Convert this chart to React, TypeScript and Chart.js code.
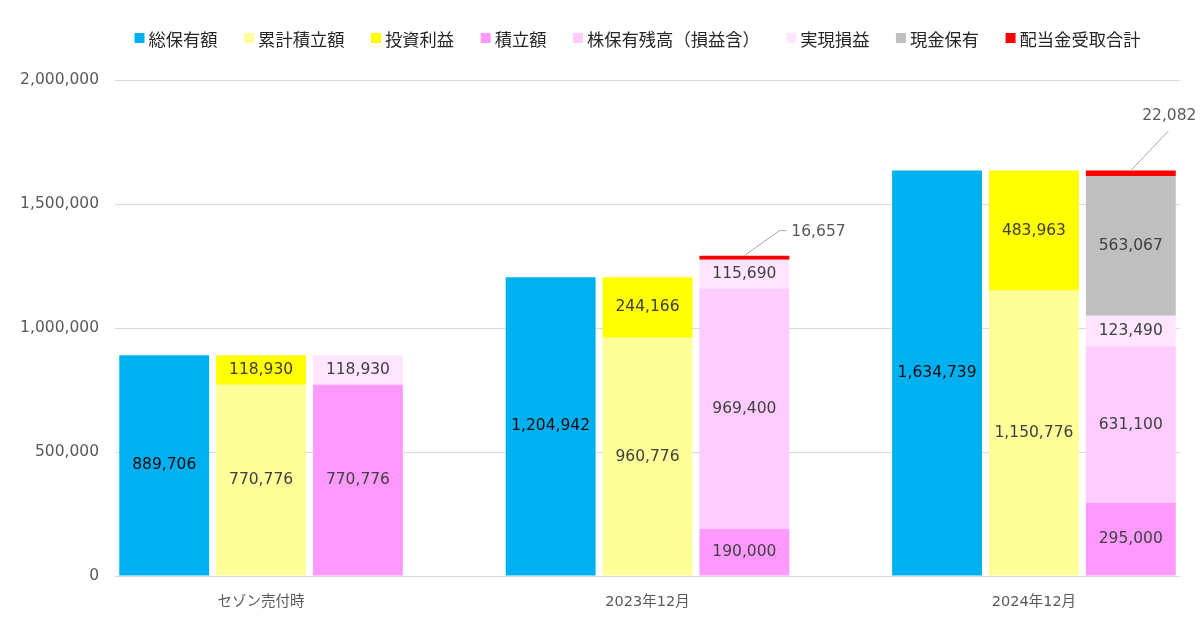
import React, { useEffect, useRef } from 'react';
import { Chart, registerables } from 'chart.js';

Chart.register(...registerables);

// ---- data ----
const categories = ['セゾン売付時', '2023年12月', '2024年12月'];
const totalHoldings = [889706, 1204942, 1634739];
const cumulativeContrib = [770776, 960776, 1150776];
const investmentProfit = [118930, 244166, 483963];
const contribution = [770776, 190000, 295000];
const stockBalance = [0, 969400, 631100];
const realizedPL = [118930, 115690, 123490];
const cashHoldings = [0, 0, 563067];
const dividends = [0, 16657, 22082];
const yTicks = [0, 500000, 1000000, 1500000, 2000000];

const seriesNames = [
  '総保有額',
  '累計積立額',
  '投資利益',
  '積立額',
  '株保有残高（損益含）',
  '実現損益',
  '現金保有',
  '配当金受取合計',
];

// ---- styles ----
const COLORS = ['#00B0F0', '#FFFF99', '#FFFF00', '#FF99FF', '#FFCCFF', '#FFE5FF', '#BFBFBF', '#FF0000'];
const NUM_FONT = "'DejaVu Sans', 'Noto Sans CJK JP', sans-serif";
const CJK_FONT = "'Noto Sans CJK JP', sans-serif";
const DIVIDEND_INDEX = 7;
// callout positions for the dividend labels, relative to the top-centre of the bar
const CALLOUTS: Array<null | { line: number[][]; dx: number; dy: number; align: CanvasTextAlign }> = [
  null,
  { line: [[35, -25], [42, -25]], dx: 47, dy: -23.5, align: 'left' },
  { line: [[37.5, -39.5]], dx: 38.5, dy: -54.5, align: 'center' },
];

const fmt = (v: number) => v.toLocaleString('en-US');

const mk = (label: string, values: number[], color: string, stack: string) => ({
  label,
  data: values.map((v, i) => ({ x: i, y: v })),
  backgroundColor: color,
  borderWidth: 0,
  stack,
});

const legendPlugin = {
  id: 'customLegend',
  afterDraw(chart: any) {
    const ctx: CanvasRenderingContext2D = chart.ctx;
    ctx.save();
    ctx.font = `17.3px ${CJK_FONT}`;
    const BOX = 10, GAP = 4, SPACING = 26.5, CX = 637.5, CY = 38;
    const items = chart.data.datasets.map((ds: any) => ({
      text: ds.label as string,
      color: ds.backgroundColor as string,
      w: ctx.measureText(ds.label).width,
    }));
    const total = items.reduce((s: number, it: any) => s + BOX + GAP + it.w, 0) + SPACING * (items.length - 1);
    let x = CX - total / 2;
    ctx.textBaseline = 'middle';
    ctx.textAlign = 'left';
    for (const it of items) {
      ctx.fillStyle = it.color;
      ctx.fillRect(x, CY - BOX / 2, BOX, BOX);
      x += BOX + GAP;
      ctx.fillStyle = '#262626';
      ctx.fillText(it.text, x, CY + 1);
      x += it.w + SPACING;
    }
    ctx.restore();
  },
};

const labelPlugin = {
  id: 'barLabels',
  afterDatasetsDraw(chart: any) {
    const ctx: CanvasRenderingContext2D = chart.ctx;
    ctx.save();
    ctx.font = `15.5px ${NUM_FONT}`;
    chart.data.datasets.forEach((ds: any, di: number) => {
      const meta = chart.getDatasetMeta(di);
      if (meta.hidden) return;
      meta.data.forEach((el: any, i: number) => {
        const v = ds.data[i].y;
        if (!v) return;
        const { x, y, base } = el.getProps(['x', 'y', 'base'], true);
        const txt = fmt(v);
        if (di === DIVIDEND_INDEX) {
          const c = CALLOUTS[i];
          if (!c) return;
          ctx.strokeStyle = '#A6A6A6';
          ctx.lineWidth = 1;
          ctx.beginPath();
          ctx.moveTo(x, y);
          c.line.forEach(([dx, dy]) => ctx.lineTo(x + dx, y + dy));
          ctx.stroke();
          ctx.fillStyle = '#595959';
          ctx.textAlign = c.align;
          ctx.textBaseline = 'middle';
          ctx.fillText(txt, x + c.dx, y + c.dy);
        } else {
          ctx.fillStyle = di === 0 ? '#0D0D0D' : '#404040';
          ctx.textAlign = 'center';
          ctx.textBaseline = 'middle';
          ctx.fillText(txt, x, (y + base) / 2);
        }
      });
    });
    ctx.restore();
  },
};

export default function App() {
  const ref = useRef<HTMLCanvasElement>(null);
  useEffect(() => {
    document.body.style.margin = '0';
    const series = [
      totalHoldings,
      cumulativeContrib,
      investmentProfit,
      contribution,
      stockBalance,
      realizedPL,
      cashHoldings,
      dividends,
    ];
    const stacks = ['a', 'b', 'b', 'c', 'c', 'c', 'c', 'c'];
    const chart = new Chart(ref.current as HTMLCanvasElement, {
      type: 'bar',
      data: {
        datasets: series.map((vals, k) => mk(seriesNames[k], vals, COLORS[k], stacks[k])) as any,
      },
      options: {
        animation: false,
        responsive: false,
        devicePixelRatio: 1,
        layout: { padding: { top: 80, right: 20, bottom: 0, left: 0 } },
        datasets: {
          bar: { categoryPercentage: 0.752, barPercentage: 0.928 },
        } as any,
        plugins: {
          legend: { display: false },
          tooltip: { enabled: false },
        },
        scales: {
          x: {
            type: 'linear',
            stacked: true,
            min: -0.378,
            max: 2.378,
            offset: false,
            bounds: 'data',
            grid: { display: false, drawTicks: false },
            border: { display: false },
            afterBuildTicks: (scale: any) => {
              scale.ticks = categories.map((_, i) => ({ value: i }));
            },
            afterFit: (scale: any) => {
              scale.height = 51;
            },
            ticks: {
              autoSkip: false,
              maxRotation: 0,
              padding: 18,
              color: '#595959',
              font: { family: NUM_FONT, size: 14.5 },
              callback: (v: any) => categories[v as number] ?? '',
            },
          },
          y: {
            type: 'linear',
            stacked: true,
            min: 0,
            max: 2000000,
            grid: { color: '#D9D9D9', lineWidth: 1, drawTicks: false },
            border: { display: false },
            afterBuildTicks: (scale: any) => {
              scale.ticks = yTicks.map((v) => ({ value: v }));
            },
            afterFit: (scale: any) => {
              scale.width = 115;
            },
            ticks: {
              padding: 16,
              color: '#595959',
              font: { family: NUM_FONT, size: 15.5 },
              callback: (v: any) => fmt(Number(v)),
            },
          },
        },
      },
      plugins: [labelPlugin, legendPlugin],
    } as any);
    return () => chart.destroy();
  }, []);
  return (
    <div style={{ width: 1200, height: 627, background: '#FFFFFF' }}>
      <canvas ref={ref} width={1200} height={627} style={{ display: 'block' }} />
    </div>
  );
}
